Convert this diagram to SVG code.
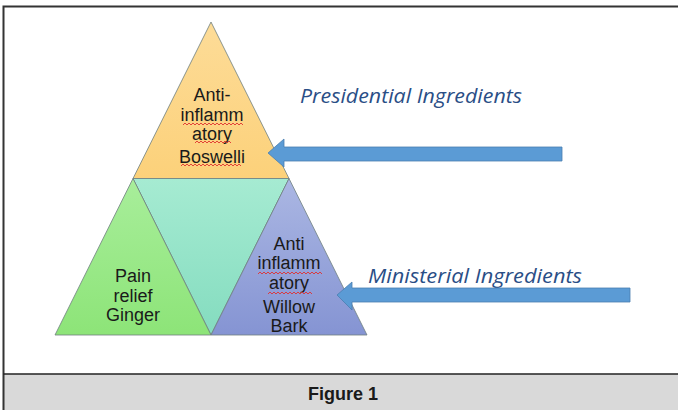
<svg xmlns="http://www.w3.org/2000/svg" width="678" height="410" viewBox="0 0 678 410">
<defs>
<linearGradient id="gTop" x1="0" y1="0" x2="0" y2="1"><stop offset="0" stop-color="#fddc98"/><stop offset="1" stop-color="#fcd17a"/></linearGradient>
<linearGradient id="gLeft" x1="0" y1="0" x2="0" y2="1"><stop offset="0" stop-color="#a8ee9b"/><stop offset="1" stop-color="#8de478"/></linearGradient>
<linearGradient id="gMid" x1="0" y1="0" x2="0" y2="1"><stop offset="0" stop-color="#a6ebd2"/><stop offset="1" stop-color="#84dcbf"/></linearGradient>
<linearGradient id="gRight" x1="0" y1="0" x2="0" y2="1"><stop offset="0" stop-color="#abb7e3"/><stop offset="1" stop-color="#8594d3"/></linearGradient>
</defs>
<style>
.tri{stroke:#6f7f7f;stroke-width:0.8;}
.lbl{font-family:"Liberation Sans",Arial,sans-serif;font-size:18px;fill:#1a1a1a;text-anchor:middle;}
.head{font-family:"Open Sans","Liberation Sans",sans-serif;font-style:italic;font-size:20px;fill:#2a4e86;}
.arrow{fill:#5b9bd5;stroke:#4a7fb0;stroke-width:0.8;}
.sq{fill:none;stroke:#e03030;stroke-width:0.9;}
</style>
<rect x="0" y="0" width="678" height="410" fill="#ffffff"/>
<rect x="3.5" y="374" width="675" height="36" fill="#d9d9d9"/>
<path d="M3.5 410 V6.5 H678" fill="none" stroke="#333333" stroke-width="2"/>
<line x1="3.5" y1="374" x2="678" y2="374" stroke="#222222" stroke-width="1.5"/>
<text x="343" y="400" font-family="Liberation Sans,Arial,sans-serif" font-weight="bold" font-size="18" fill="#1a1a1a" text-anchor="middle">Figure 1</text>

<g id="top">
<polygon class="tri" points="211,22 133,178.5 289,178.5" fill="url(#gTop)"/>
<text class="lbl" x="212" y="101">Anti-</text>
<text class="lbl" x="212" y="121">inflamm</text>
<text class="lbl" x="212" y="140">atory</text>
<text class="lbl" x="212" y="163">Boswelli</text>
<path class="sq" d="M183 125 l2 -2 l2 2 l2 -2 l2 2 l2 -2 l2 2 l2 -2 l2 2 l2 -2 l2 2 l2 -2 l2 2 l2 -2 l2 2 l2 -2 l2 2 l2 -2 l2 2 l2 -2 l2 2 l2 -2 l2 2 l2 -2 l2 2 l2 -2 l2 2 l2 -2 l2 2 l2 -2 l2 2"/>
<path class="sq" d="M195 143 l2 -2 l2 2 l2 -2 l2 2 l2 -2 l2 2 l2 -2 l2 2 l2 -2 l2 2 l2 -2 l2 2 l2 -2 l2 2 l2 -2 l2 2 l2 -2 l2 2"/>
<path class="sq" d="M181 166 l2 -2 l2 2 l2 -2 l2 2 l2 -2 l2 2 l2 -2 l2 2 l2 -2 l2 2 l2 -2 l2 2 l2 -2 l2 2 l2 -2 l2 2 l2 -2 l2 2 l2 -2 l2 2 l2 -2 l2 2 l2 -2 l2 2 l2 -2 l2 2 l2 -2 l2 2 l2 -2 l2 2"/>
</g>
<g id="middle">
<polygon class="tri" points="133,178.5 289,178.5 211,335" fill="url(#gMid)"/>
</g>
<g id="left">
<polygon class="tri" points="133,178.5 55,335 211,335" fill="url(#gLeft)"/>
<text class="lbl" x="133" y="282">Pain</text>
<text class="lbl" x="133" y="302">relief</text>
<text class="lbl" x="133" y="321">Ginger</text>
</g>
<g id="right">
<polygon class="tri" points="289,178.5 211,335 367,335" fill="url(#gRight)"/>
<text class="lbl" x="289" y="250">Anti</text>
<text class="lbl" x="289" y="269">inflamm</text>
<text class="lbl" x="289" y="289">atory</text>
<text class="lbl" x="289" y="313">Willow</text>
<text class="lbl" x="289" y="332">Bark</text>
<path class="sq" d="M258 274 l2 -2 l2 2 l2 -2 l2 2 l2 -2 l2 2 l2 -2 l2 2 l2 -2 l2 2 l2 -2 l2 2 l2 -2 l2 2 l2 -2 l2 2 l2 -2 l2 2 l2 -2 l2 2 l2 -2 l2 2 l2 -2 l2 2 l2 -2 l2 2 l2 -2 l2 2 l2 -2 l2 2 l2 -2 l2 2"/>
<path class="sq" d="M268 294 l2 -2 l2 2 l2 -2 l2 2 l2 -2 l2 2 l2 -2 l2 2 l2 -2 l2 2 l2 -2 l2 2 l2 -2 l2 2 l2 -2 l2 2 l2 -2 l2 2 l2 -2 l2 2 l2 -2 l2 2"/>
</g>
<g id="presidential">
<text class="head" x="300" y="103" textLength="222" lengthAdjust="spacingAndGlyphs">Presidential Ingredients</text>
</g>
<g id="ministerial">
<text class="head" x="368" y="283" textLength="214" lengthAdjust="spacingAndGlyphs">Ministerial Ingredients</text>
</g>
<g id="connectors">
<polygon class="arrow" points="268,153 284,139 284,147 562,147 562,161 284,161 284,167"/>
<polygon class="arrow" points="337,295 352,282 352,288 630,288 630,302 352,302 352,310"/>
</g>
</svg>
